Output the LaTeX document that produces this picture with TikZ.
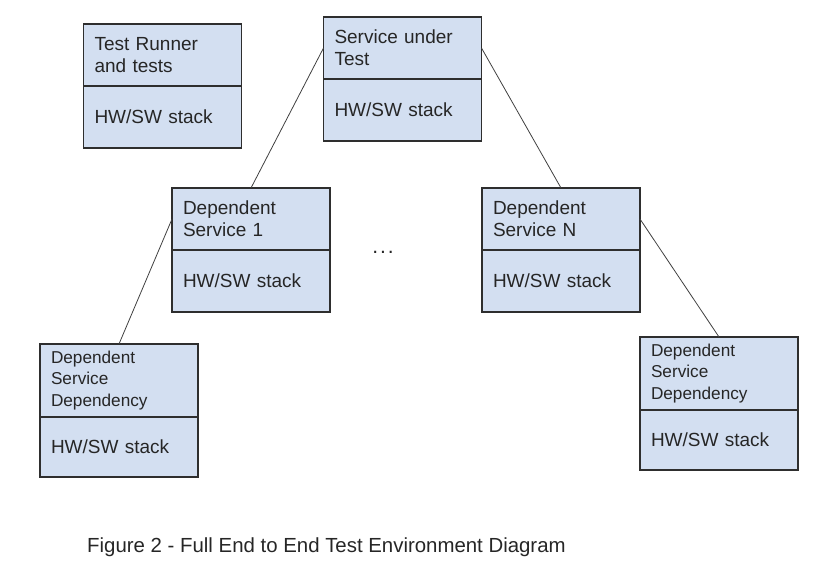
\documentclass[tikz,border=0pt]{standalone}
\usepackage{fontspec}
\setmainfont{Liberation Sans}
\usepackage{tikz}
\usetikzlibrary{positioning}

\definecolor{boxblue}{HTML}{D3DFF1}
\definecolor{boxline}{HTML}{2E2E2E}

\begin{document}
\begin{tikzpicture}[x=1pt,y=-1pt,
  part/.style={draw=boxline,line width=1.7pt,fill=boxblue,outer sep=0pt,inner xsep=11pt,
    text width=136pt,align=left,text=black!85,font=\fontsize{19}{22}\selectfont},
  namepart/.style={part,minimum height=62pt},
  stackpart/.style={part,minimum height=62pt},
  depname/.style={part,minimum height=73pt,font=\fontsize{17.2}{21.5}\selectfont},
  depstack/.style={part,minimum height=60pt},
  link/.style={draw=black!75,line width=0.8pt}]
\useasboundingbox (0,0) rectangle (826,574);
\node[namepart] (runner) at (162.5,55) {Test Runner\\and tests};
\node[stackpart,below=0pt of runner] (runnerhw) {HW/SW stack};
\node[namepart] (sut) at (402.5,48) {Service under\\Test};
\node[stackpart,below=0pt of sut] (suthw) {HW/SW stack};
\node[namepart] (dep1) at (251,219) {Dependent\\Service 1};
\node[stackpart,below=0pt of dep1] (dep1hw) {HW/SW stack};
\node[namepart] (depn) at (561,219) {Dependent\\Service N};
\node[stackpart,below=0pt of depn] (depnhw) {HW/SW stack};
\node[depname] (dd1) at (119,380.5) {Dependent\\Service\\Dependency};
\node[depstack,below=0pt of dd1] (dd1hw) {HW/SW stack};
\node[depname] (ddn) at (719,373.5) {Dependent\\Service\\Dependency};
\node[depstack,below=0pt of ddn] (ddnhw) {HW/SW stack};
\node[font=\fontsize{21}{24}\selectfont,text=black!85] (dots) at (383,252) {.\kern2pt.\kern2pt.};
\draw[link] (sut.west) -- (dep1.north);
\draw[link] (sut.east) -- (depn.north);
\draw[link] (dep1.west) -- (dd1.north);
\draw[link] (depn.east) -- (ddn.north);
\node[anchor=base west,inner sep=0pt,text=black!85,font=\fontsize{20.4}{24}\selectfont] (caption) at (87,552)
  {Figure 2 - Full End to End Test Environment Diagram};
\end{tikzpicture}
\end{document}
